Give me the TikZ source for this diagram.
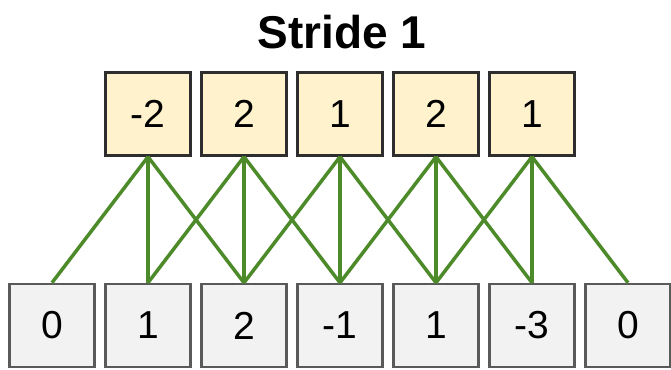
\documentclass[tikz,border=0pt]{standalone}
\usepackage{fontspec}
\setmainfont{Liberation Sans}
\definecolor{topfill}{HTML}{FFF2CC}
\definecolor{botfill}{HTML}{F2F2F2}
\definecolor{botdraw}{HTML}{5A5A5A}
\definecolor{topdraw}{HTML}{2E2E2E}
\definecolor{linkgreen}{HTML}{4D8A2A}
\tikzset{
  cell/.style={minimum width=85pt,minimum height=83pt,inner sep=0pt,line width=2.5pt,font=\fontsize{39}{42}\selectfont},
  topcell/.style={cell,draw=topdraw,fill=topfill},
  botcell/.style={cell,draw=botdraw,fill=botfill},
  link/.style={draw=linkgreen,line width=3.5pt}
}
\begin{document}
\begin{tikzpicture}[x=1pt,y=-1pt]
\useasboundingbox (0,0) rectangle (671,369);
\node[font=\bfseries\fontsize{46}{50}\selectfont] (title) at (342,32) {Stride 1};
\foreach \v [count=\i] in {-2,2,1,2,1}
  \node[topcell] (t\i) at ({148+96*(\i-1)},114) {\v};
\foreach \v [count=\i] in {0,1,2,-1,1,-3,0}
  \node[botcell] (b\i) at ({52+96*(\i-1)},325.5) {\v};
\foreach \i in {1,...,5}{
  \pgfmathtruncatemacro{\a}{\i}
  \pgfmathtruncatemacro{\b}{\i+1}
  \pgfmathtruncatemacro{\c}{\i+2}
  \draw[link] (t\i.south) -- (b\a.north);
  \draw[link] (t\i.south) -- (b\b.north);
  \draw[link] (t\i.south) -- (b\c.north);
}
\end{tikzpicture}
\end{document}
